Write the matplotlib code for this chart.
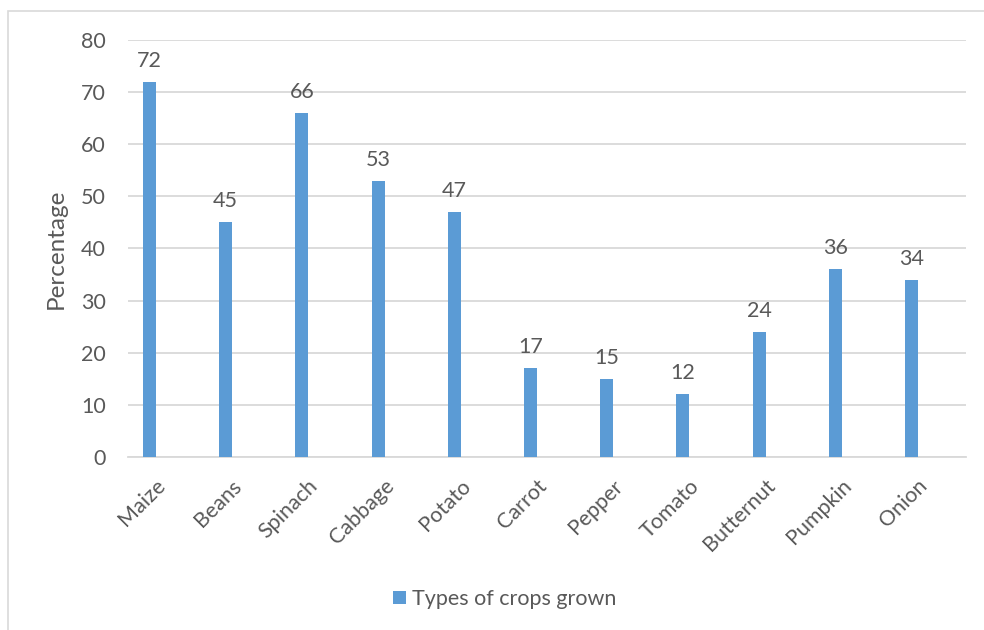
import matplotlib

matplotlib.use("Agg")
import matplotlib.pyplot as plt
from matplotlib.patches import Rectangle
from matplotlib.transforms import ScaledTranslation

crops = ["Maize", "Beans", "Spinach", "Cabbage", "Potato", "Carrot",
         "Pepper", "Tomato", "Butternut", "Pumpkin", "Onion"]
percent = [72, 45, 66, 53, 47, 17, 15, 12, 24, 36, 34]
series_name = "Types of crops grown"

BAR = "#5b9bd5"
TEXT = "#595959"
GRID = "#d9d9d9"

plt.rcParams["font.family"] = ["Lato", "DejaVu Sans"]

fig = plt.figure(figsize=(9.84, 6.3), dpi=100)
fig.patch.set_facecolor("white")
fig.patches.append(Rectangle((8 / 984, -0.1), 2, 1.1 - 11 / 630,
                             transform=fig.transFigure, fill=False,
                             edgecolor=GRID, linewidth=1.2))

ax = fig.add_axes([0.130, 0.2746, 0.852, 0.662])
x = list(range(len(crops)))
bars = ax.bar(x, percent, width=0.17, color=BAR, label=series_name, zorder=3)

for xi, v in zip(x, percent):
    ax.annotate(str(v), (xi, v), xytext=(0, 8), textcoords="offset points",
                ha="center", va="bottom", fontsize=15.5, color=TEXT)

ax.set_xlim(-0.283, 10.72)
ax.set_ylim(0, 80)
ax.set_yticks(range(0, 81, 10))
ax.set_xticks(x)
ax.set_xticklabels(crops, rotation=45, ha="right", rotation_mode="anchor")
ax.tick_params(axis="both", length=0, labelsize=15.5, colors=TEXT)
ax.tick_params(axis="y", pad=16)
ax.tick_params(axis="x", pad=12)
# nudge the slanted labels a little to the right, as in the source chart
shift = ScaledTranslation(6 / 100, -2 / 100, fig.dpi_scale_trans)
for lab in ax.get_xticklabels():
    lab.set_transform(lab.get_transform() + shift)
ax.grid(axis="y", color=GRID, linewidth=1.3, zorder=0)
for side in ["top", "right", "left"]:
    ax.spines[side].set_visible(False)
ax.spines["bottom"].set_color(GRID)
ax.spines["bottom"].set_linewidth(1.3)
ax.set_ylabel("Percentage", fontsize=17.5, color=TEXT, labelpad=10)

fig.legend(handles=[bars], labels=[series_name], loc="center",
           bbox_to_anchor=(0.513, 0.049), frameon=False, fontsize=15.5,
           labelcolor=TEXT, handlelength=0.6, handleheight=0.6,
           handletextpad=0.3)

fig.savefig("out.png", dpi=100)
